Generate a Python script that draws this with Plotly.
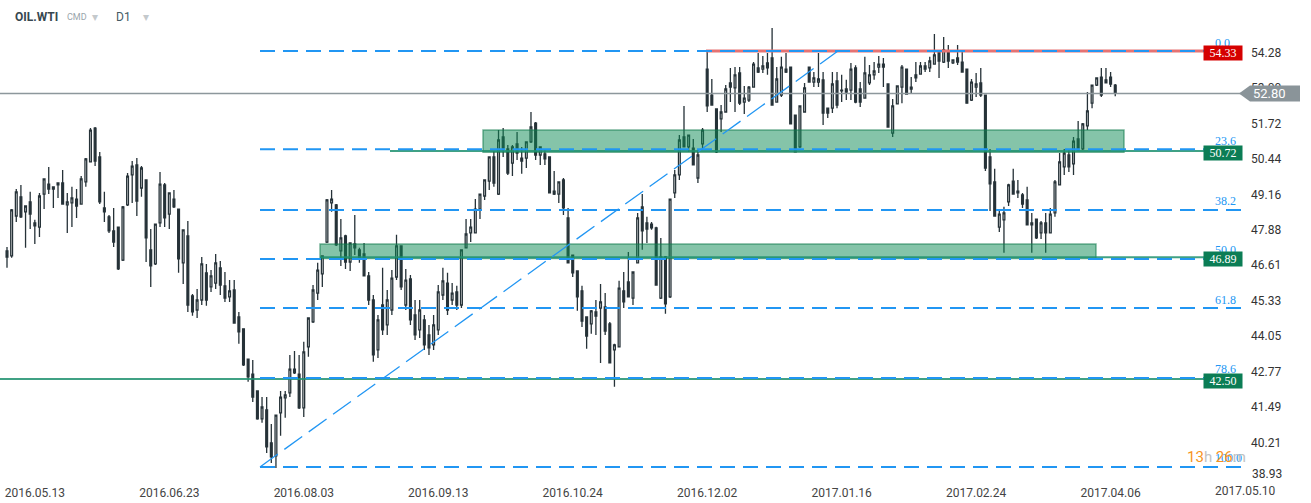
import pandas as pd
import plotly.graph_objects as go

# ---------------- data ----------------
holidays = ["2016-12-26", "2017-01-02"]
dates = [d.strftime("%Y-%m-%d") for d in pd.bdate_range("2016-05-05", "2017-04-07")
         if d.strftime("%Y-%m-%d") not in holidays]

opens = [47.12, 46.94, 48.38, 49.07, 48.53, 48.89, 48.13, 47.98, 49.17, 49.53,
         49.35, 49.50, 49.57, 48.78, 48.85, 48.99, 48.81, 49.61, 50.33, 51.55,
         50.51, 48.67, 48.35, 47.84, 47.98, 46.79, 48.78, 49.86, 50.22, 49.39,
         49.68, 47.16, 46.65, 48.13, 49.50, 48.45, 48.99, 48.63, 46.69, 47.66,
         45.50, 44.99, 45.35, 46.33, 45.82, 45.96, 46.51, 45.86, 45.46, 45.71,
         44.74, 44.31, 43.22, 42.68, 42.07, 41.06, 41.39, 40.20, 39.73, 41.28,
         41.82, 42.00, 42.86, 42.68, 41.46, 43.66, 44.56, 45.60, 46.29, 47.44,
         48.85, 48.78, 47.12, 47.66, 46.72, 47.37, 47.16, 47.01, 46.22, 45.35,
         43.55, 45.17, 44.45, 44.99, 46.18, 47.30, 45.17, 46.11, 44.81, 44.27,
         44.63, 44.09, 43.73, 44.27, 45.53, 45.96, 45.35, 45.64, 45.17, 47.23,
         47.77, 47.77, 48.63, 49.10, 49.64, 50.51, 49.17, 51.23, 50.80, 50.29,
         50.98, 50.47, 50.47, 51.05, 51.73, 50.58, 50.62, 50.51, 49.28, 49.17,
         49.68, 48.31, 46.97, 46.40, 45.68, 44.74, 44.49, 44.92, 45.06, 45.10,
         44.49, 43.55, 43.66, 45.68, 46.00, 45.42, 46.69, 48.71, 48.13, 48.09,
         47.95, 45.42, 46.90, 45.46, 49.21, 49.86, 51.23, 50.87, 50.83, 49.75,
         50.98, 53.68, 52.74, 52.24, 51.88, 52.13, 53.18, 53.00, 53.54, 52.49,
         52.56, 53.03, 53.72, 53.68, 53.90, 54.08, 52.49, 52.74, 53.68, 53.75,
         52.02, 50.87, 52.13, 53.75, 53.21, 53.21, 53.29, 52.27, 52.27, 53.25,
         52.92, 52.96, 52.92, 53.72, 52.96, 52.63, 53.18, 53.47, 53.75, 53.86,
         53.14, 51.37, 52.42, 53.03, 53.68, 53.03, 53.47, 53.50, 53.79, 53.72,
         53.86, 54.30, 53.93, 54.30, 53.90, 54.08, 53.93, 53.68, 52.56, 53.03,
         53.18, 52.74, 50.51, 49.61, 47.98, 48.24, 48.89, 49.64, 49.28, 49.14,
         48.96, 48.06, 48.27, 47.77, 48.13, 47.77, 48.49, 49.50, 50.15, 50.58,
         50.26, 51.16, 50.80, 51.63, 52.45, 53.10, 53.39, 53.29, 53.39, 53.10]

highs = [47.26, 48.63, 49.35, 49.50, 48.76, 49.25, 48.24, 49.21, 49.74, 50.15,
         49.45, 49.59, 50.04, 49.21, 49.43, 49.35, 49.82, 50.47, 51.55, 51.59,
         50.69, 49.25, 48.42, 48.67, 48.00, 48.74, 49.93, 50.36, 50.47, 50.18,
         49.70, 47.91, 48.10, 49.97, 49.57, 49.23, 49.32, 48.65, 47.90, 48.20,
         45.57, 45.75, 46.90, 46.65, 46.43, 47.01, 46.76, 46.36, 46.07, 46.07,
         44.92, 44.33, 43.24, 43.19, 42.09, 41.85, 41.85, 40.88, 41.22, 42.07,
         42.07, 43.37, 43.51, 43.37, 43.84, 44.72, 45.89, 46.69, 46.96, 48.99,
         49.32, 48.81, 48.27, 47.70, 47.43, 48.42, 47.23, 47.41, 46.36, 45.53,
         44.81, 46.51, 45.71, 46.43, 47.70, 47.32, 46.47, 46.25, 45.35, 45.35,
         44.81, 44.45, 44.81, 45.89, 46.51, 46.33, 45.96, 45.86, 47.16, 48.27,
         48.27, 48.99, 49.19, 49.70, 50.51, 50.72, 51.48, 51.55, 50.94, 50.94,
         51.41, 50.87, 51.05, 52.13, 51.77, 50.87, 50.76, 50.53, 50.00, 49.61,
         49.75, 48.67, 46.97, 46.40, 45.86, 44.74, 44.99, 45.35, 45.93, 45.60,
         44.56, 43.77, 46.04, 46.36, 47.08, 46.36, 48.49, 49.17, 48.35, 48.16,
         47.99, 47.59, 46.94, 48.99, 50.04, 51.30, 52.35, 51.30, 51.16, 50.76,
         51.55, 54.33, 53.32, 52.24, 52.38, 53.10, 53.72, 53.75, 53.75, 53.07,
         53.07, 53.93, 54.26, 54.15, 54.26, 55.16, 53.75, 54.12, 54.26, 53.77,
         52.04, 52.35, 53.18, 53.77, 53.57, 54.26, 53.57, 52.27, 53.57, 53.57,
         53.47, 53.29, 53.90, 53.82, 53.21, 54.12, 53.83, 53.93, 54.15, 54.08,
         53.16, 52.60, 53.07, 53.83, 53.70, 53.39, 53.93, 53.93, 53.93, 54.12,
         54.94, 54.32, 54.84, 54.55, 54.01, 54.55, 54.37, 53.70, 53.32, 53.54,
         53.72, 52.76, 50.80, 50.08, 48.63, 48.71, 49.54, 50.08, 49.68, 49.21,
         49.43, 48.49, 48.29, 48.20, 48.49, 48.67, 49.68, 50.65, 50.80, 50.76,
         51.23, 51.81, 51.73, 52.85, 53.10, 53.36, 53.72, 53.72, 53.57, 53.14]

lows = [46.51, 46.87, 48.16, 48.31, 47.23, 47.91, 47.37, 47.62, 48.63, 49.17,
        48.67, 49.03, 48.79, 47.77, 47.98, 48.31, 48.79, 49.43, 50.31, 50.18,
        48.81, 48.16, 47.77, 47.26, 46.43, 46.76, 48.74, 48.85, 48.38, 49.07,
        46.72, 45.82, 46.61, 47.98, 47.98, 47.91, 48.67, 46.33, 45.93, 44.92,
        44.78, 44.70, 45.17, 45.14, 45.64, 45.75, 45.53, 45.28, 45.28, 44.49,
        43.77, 42.97, 42.40, 41.67, 41.03, 40.92, 39.83, 39.47, 39.29, 40.45,
        41.10, 41.85, 42.68, 41.42, 41.13, 43.30, 44.52, 45.35, 45.82, 47.41,
        48.53, 47.30, 46.58, 46.47, 46.40, 46.97, 46.69, 46.20, 45.17, 43.12,
        43.26, 44.09, 44.09, 44.81, 46.07, 45.71, 44.99, 44.45, 43.91, 43.98,
        43.55, 43.37, 43.55, 44.09, 45.35, 44.81, 45.17, 44.99, 45.06, 47.21,
        47.44, 47.76, 48.27, 48.96, 49.32, 49.43, 49.14, 50.51, 49.86, 49.82,
        50.40, 49.90, 50.11, 51.01, 50.40, 50.22, 50.22, 49.19, 49.14, 48.85,
        48.42, 46.69, 46.18, 44.96, 44.38, 43.59, 44.13, 44.09, 43.08, 44.09,
        43.08, 42.22, 43.64, 45.06, 45.46, 45.17, 46.68, 47.16, 47.41, 47.88,
        45.86, 45.39, 44.85, 45.42, 49.03, 49.68, 50.87, 50.69, 50.22, 49.57,
        50.83, 52.13, 52.38, 50.65, 51.41, 52.13, 52.49, 52.13, 52.38, 52.06,
        52.49, 53.03, 53.54, 53.54, 53.47, 52.38, 52.49, 52.67, 53.54, 51.70,
        50.69, 50.83, 52.13, 53.21, 53.03, 53.03, 51.66, 51.91, 52.09, 52.27,
        52.49, 52.56, 52.56, 52.45, 52.31, 52.63, 53.10, 53.29, 53.54, 53.03,
        51.59, 51.23, 52.40, 52.45, 52.78, 52.82, 53.21, 53.47, 53.57, 53.57,
        53.86, 53.36, 53.90, 53.72, 53.86, 53.83, 53.57, 52.45, 52.53, 52.67,
        52.67, 50.00, 48.56, 48.35, 47.80, 47.05, 48.74, 49.17, 49.03, 48.67,
        48.06, 47.05, 47.55, 47.55, 47.05, 47.77, 48.35, 49.50, 49.86, 49.97,
        49.86, 50.76, 50.76, 51.48, 52.27, 53.07, 52.67, 53.18, 53.03, 52.70]

closes = [46.90, 48.60, 49.25, 48.35, 48.74, 48.45, 48.02, 49.10, 49.72, 49.35,
          49.43, 49.57, 48.81, 48.89, 49.03, 48.74, 49.72, 50.44, 51.48, 50.36,
          48.89, 48.53, 47.84, 47.44, 46.47, 48.71, 49.82, 50.18, 48.92, 50.11,
          47.59, 46.58, 48.09, 49.53, 48.31, 49.21, 48.71, 46.83, 47.88, 45.17,
          44.92, 45.35, 46.65, 45.35, 46.22, 46.69, 45.89, 45.42, 45.68, 44.52,
          44.20, 43.01, 42.58, 41.85, 41.06, 41.49, 40.05, 39.69, 41.20, 41.85,
          41.93, 42.86, 42.72, 41.46, 43.48, 44.70, 45.71, 46.43, 46.94, 48.96,
          48.99, 47.34, 47.59, 46.72, 47.41, 47.23, 46.87, 46.22, 45.35, 43.37,
          44.63, 44.27, 45.35, 46.14, 47.30, 45.82, 46.07, 44.63, 44.09, 44.99,
          43.73, 43.62, 44.45, 45.64, 46.04, 44.99, 45.60, 45.17, 47.16, 47.73,
          47.98, 48.63, 49.17, 49.68, 50.51, 49.57, 51.12, 50.83, 49.93, 50.87,
          50.65, 50.36, 51.05, 51.59, 50.58, 50.87, 50.44, 49.21, 49.17, 49.61,
          48.67, 46.69, 46.33, 45.46, 44.59, 44.05, 44.96, 44.77, 45.28, 44.23,
          43.08, 43.73, 45.78, 45.28, 45.46, 46.36, 48.31, 47.84, 47.91, 47.95,
          45.89, 46.90, 45.21, 48.99, 49.86, 51.12, 50.87, 51.30, 50.22, 50.58,
          51.48, 52.35, 52.38, 50.69, 52.13, 52.96, 53.03, 53.47, 52.45, 52.63,
          53.03, 53.86, 53.57, 53.79, 53.72, 52.38, 53.32, 53.75, 53.57, 51.70,
          50.69, 52.35, 53.00, 53.21, 53.36, 53.32, 52.09, 52.09, 53.14, 52.38,
          52.89, 52.85, 53.68, 52.49, 52.49, 53.54, 53.47, 53.61, 53.86, 53.75,
          51.59, 52.35, 53.07, 53.75, 52.78, 52.96, 53.36, 53.79, 53.68, 53.97,
          54.19, 53.97, 54.37, 53.97, 54.01, 53.93, 53.57, 52.45, 53.21, 53.14,
          52.74, 50.11, 49.54, 48.38, 48.45, 48.49, 49.50, 49.17, 49.21, 48.81,
          48.06, 48.13, 47.59, 48.13, 47.77, 48.45, 49.61, 50.33, 50.65, 50.15,
          51.08, 50.76, 51.70, 52.17, 53.10, 53.36, 52.74, 53.18, 53.14, 52.80]

x_label_dates = ["2016-05-13", "2016-06-23", "2016-08-03", "2016-09-13", "2016-10-24",
                 "2016-12-02", "2017-01-16", "2017-02-24", "2017-04-06"]
future_label = "2017.05.10"
y_ticks = ["40.21", "41.49", "42.77", "44.05", "45.33", "46.61", "47.88",
           "49.16", "50.44", "51.72", "53.00", "54.28"]
y_bottom_label = "38.93"

fib_high, fib_low = 54.33, 39.33
fib_ratios = [0.0, 23.6, 38.2, 50.0, 61.8, 78.6, 100.0]

resistance = 54.33
last_price = 52.80
green_levels = [50.72, 46.89, 42.50]
zones = [(50.68, 51.48), (46.85, 47.37)]

# ---------------- geometry (pixels -> axis) ----------------
PX_BAR = 4.637
X0_PX = 7.0
PLOT_W = 1241
def xi(px):
    return (px - X0_PX) / PX_BAR

n = min(len(dates), len(opens))
xs = list(range(n))
x_lo, x_hi = xi(0), xi(PLOT_W)

fig = go.Figure()
fig.add_trace(go.Candlestick(
    x=xs, open=opens[:n], high=highs[:n], low=lows[:n], close=closes[:n],
    increasing=dict(line=dict(color="#263238", width=1.3), fillcolor="#ffffff"),
    decreasing=dict(line=dict(color="#263238", width=1.3), fillcolor="#263238"),
    whiskerwidth=0, hoverinfo="skip", showlegend=False))

shapes = []
# zones
zone_x = [(xi(483), xi(1124)), (xi(320), xi(1096))]
for (y0, y1), (zx0, zx1) in zip(zones, zone_x):
    shapes.append(dict(type="rect", xref="x", yref="y", x0=zx0, x1=zx1, y0=y0, y1=y1,
                       fillcolor="rgba(12,138,84,0.5)", line=dict(color="rgba(12,120,74,0.55)", width=1.5),
                       layer="above"))
# level lines
shapes.append(dict(type="line", xref="x", yref="y", x0=xi(706), x1=x_hi, y0=resistance, y1=resistance,
                   line=dict(color="#e57373", width=3), layer="above"))
shapes.append(dict(type="line", xref="x", yref="y", x0=x_lo, x1=x_hi, y0=last_price, y1=last_price,
                   line=dict(color="#8d979c", width=1.5), layer="above"))
green_x0 = [xi(390), xi(320), x_lo]
for lv, gx in zip(green_levels, green_x0):
    shapes.append(dict(type="line", xref="x", yref="y", x0=gx, x1=x_hi, y0=lv, y1=lv,
                       line=dict(color="rgba(30,145,110,0.85)", width=2), layer="above"))
# fib lines
fib_vals = [fib_high - r / 100.0 * (fib_high - fib_low) for r in fib_ratios]
for fv in fib_vals:
    shapes.append(dict(type="line", xref="x", yref="y", x0=xi(260), x1=x_hi, y0=fv, y1=fv,
                       line=dict(color="#2196f3", width=2, dash="15px,8px"), layer="above"))
# diagonal trend line of the fib tool
shapes.append(dict(type="line", xref="x", yref="y", x0=xi(260), x1=xi(838), y0=fib_low, y1=fib_high,
                   line=dict(color="#2196f3", width=1.3, dash="22px,8px"), layer="above"))
# grey price tag
shapes.append(dict(type="path", xref="paper", yref="y", xsizemode="pixel", ysizemode="pixel",
                   xanchor=1.0, yanchor=last_price,
                   path="M -2,0 L 9,8 L 59,8 L 59,-8 L 9,-8 Z",
                   fillcolor="#8a9499", line=dict(width=0), layer="above"))

ann = []
# header
hdr = [("<b>OIL.WTI</b>", 13, 12, "#37474f"), ("CMD", 65, 9, "#9aa5ab"), ("▾", 90, 12, "#c4c9cc"),
       ("D1", 114, 12, "#455a64"), ("▾", 141, 12, "#c4c9cc")]
for t, xs_px, fs, col in hdr:
    ann.append(dict(text=t, xref="paper", yref="paper", x=0, y=1, xanchor="left", yanchor="middle",
                    xshift=xs_px, yshift=-17, showarrow=False, font=dict(family="Roboto", size=fs, color=col)))
# fib labels
for r, fv in zip(fib_ratios, fib_vals):
    ann.append(dict(text=f"{r:.1f}", xref="paper", yref="y", x=1213 / PLOT_W, y=fv, xanchor="left",
                    yanchor="middle", yshift=8.5, showarrow=False,
                    font=dict(family="Liberation Serif", size=12, color="#2196f3")))
# level boxes
for lv, col in [(resistance, "#d50000")] + [(g, "#0b7d55") for g in green_levels]:
    ann.append(dict(text=f"{lv:.2f}", xref="paper", yref="y", x=1243 / PLOT_W, y=lv, xanchor="right",
                    yanchor="middle", yshift=-1.5, showarrow=False, bgcolor=col, width=36, height=12, borderpad=1,
                    font=dict(family="Liberation Serif", size=12, color="#ffffff")))
# last price text
ann.append(dict(text=f"{last_price:.2f}", xref="paper", yref="y", x=1.0, y=last_price, xanchor="left",
                yanchor="middle", xshift=10, showarrow=False,
                font=dict(family="Roboto", size=13, color="#ffffff")))
# countdown
ann.append(dict(text='<span style="color:#f7941d">13</span><span style="color:#c2c2c2">h </span>'
                     '<span style="color:#f7941d">26</span><span style="color:#c2c2c2">m</span>',
                xref="paper", yref="paper", x=1185 / PLOT_W, y=0, xanchor="left", yanchor="middle",
                yshift=21, showarrow=False, font=dict(family="Roboto", size=15)))
# bottom y label and future date label
ann.append(dict(text=y_bottom_label, xref="paper", yref="paper", x=1.0, y=0, xanchor="left", yanchor="middle",
                xshift=9, yshift=4, showarrow=False, font=dict(family="Roboto", size=12, color="#333333")))
ann.append(dict(text=future_label, xref="paper", yref="paper", x=1245 / PLOT_W, y=0, xanchor="center",
                yanchor="middle", yshift=-13, showarrow=False, font=dict(family="Roboto", size=12, color="#444444")))

tickvals = [dates.index(d) for d in x_label_dates]
ticktext = [d.replace("-", ".") for d in x_label_dates]

fig.update_layout(
    width=1311, height=503,
    margin=dict(l=0, r=1311 - PLOT_W, t=0, b=25, autoexpand=False),
    paper_bgcolor="#ffffff", plot_bgcolor="#ffffff",
    font=dict(family="Roboto", size=12, color="#333333"),
    shapes=shapes, annotations=ann, showlegend=False, boxgap=0.45,
    xaxis=dict(range=[x_lo, x_hi], tickvals=tickvals, ticktext=ticktext, showgrid=False, zeroline=False,
               showline=False, ticks="", rangeslider=dict(visible=False), fixedrange=True, automargin=False,
               tickfont=dict(family="Roboto", size=12, color="#444444"), ticklabelstandoff=6),
    yaxis=dict(range=[38.93, 56.17], side="right", tickvals=[float(t) for t in y_ticks], ticktext=y_ticks,
               showgrid=False, zeroline=False, showline=False, ticks="", fixedrange=True, automargin=False,
               tickfont=dict(family="Roboto", size=12, color="#333333"), ticklabelstandoff=9),
)

fig.write_html("out.html", config={"displayModeBar": False},
               post_script="document.body.style.margin='0px';document.body.style.padding='0px';")
